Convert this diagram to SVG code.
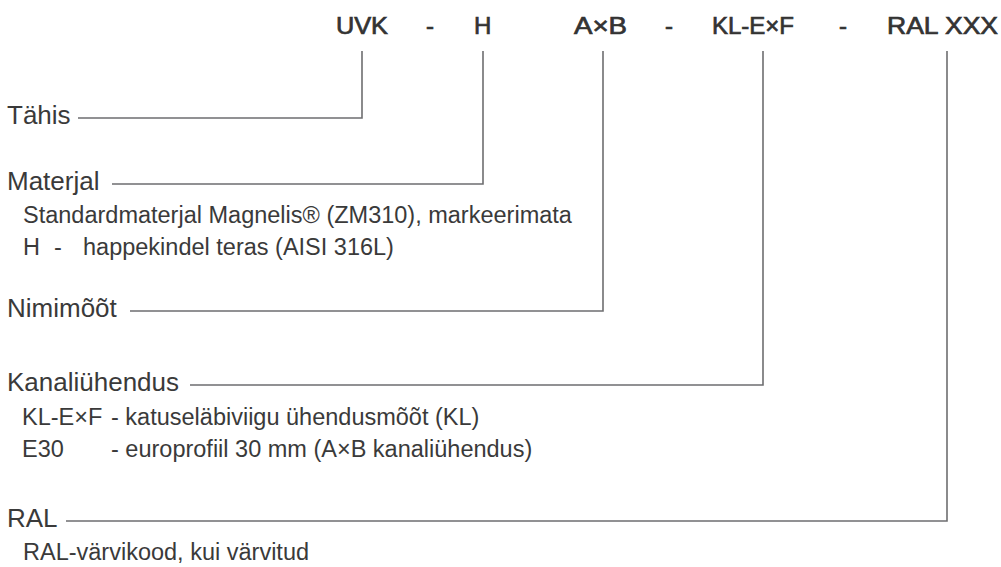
<svg xmlns="http://www.w3.org/2000/svg" width="1001" height="567" viewBox="0 0 1001 567">
<style>
.h{font-family:"Liberation Sans",Arial,sans-serif;font-size:24px;fill:#333333;stroke:#333333;stroke-width:0.7px;paint-order:stroke}
.l{font-family:"Liberation Sans",Arial,sans-serif;font-size:26px;fill:#3a3a3a}
.s{font-family:"Liberation Sans",Arial,sans-serif;font-size:23.5px;fill:#3a3a3a}
.c{fill:none;stroke:#6e6e70;stroke-width:1.6}
</style>
<rect width="1001" height="567" fill="#ffffff"/>
<g id="header">
<text class="h" x="336" y="34" textLength="52" lengthAdjust="spacingAndGlyphs">UVK</text>
<text class="h" x="426" y="34">-</text>
<text class="h" x="474" y="34">H</text>
<text class="h" x="574" y="34" textLength="53" lengthAdjust="spacingAndGlyphs">A×B</text>
<text class="h" x="665" y="34">-</text>
<text class="h" x="712" y="34" textLength="82" lengthAdjust="spacingAndGlyphs">KL-E×F</text>
<text class="h" x="839" y="34">-</text>
<text class="h" x="887" y="34" textLength="111" lengthAdjust="spacingAndGlyphs">RAL XXX</text>
</g>
<g id="connectors">
<polyline class="c" points="78,118 362,118 362,51"/>
<polyline class="c" points="112,184 483,184 483,51"/>
<polyline class="c" points="130,311 603,311 603,51"/>
<polyline class="c" points="190,385 763,385 763,51"/>
<polyline class="c" points="66,521 947,521 947,51"/>
</g>
<g id="tahis">
<text class="l" x="7" y="124">Tähis</text>
</g>
<g id="materjal">
<text class="l" x="7" y="190">Materjal</text>
<text class="s" x="23" y="223">Standardmaterjal Magnelis® (ZM310), markeerimata</text>
<text class="s" x="23" y="255">H</text>
<text class="s" x="54" y="255">-</text>
<text class="s" x="83" y="255">happekindel teras (AISI 316L)</text>
</g>
<g id="nimimoot">
<text class="l" x="7" y="317">Nimimõõt</text>
</g>
<g id="kanaliuhendus">
<text class="l" x="7" y="391">Kanaliühendus</text>
<text class="s" x="22" y="425">KL-E×F</text>
<text class="s" x="111" y="425">- katuseläbiviigu ühendusmõõt (KL)</text>
<text class="s" x="22" y="457">E30</text>
<text class="s" x="111" y="457">- europrofiil 30 mm (A×B kanaliühendus)</text>
</g>
<g id="ral">
<text class="l" x="7" y="527">RAL</text>
<text class="s" x="23" y="560">RAL-värvikood, kui värvitud</text>
</g>
</svg>
